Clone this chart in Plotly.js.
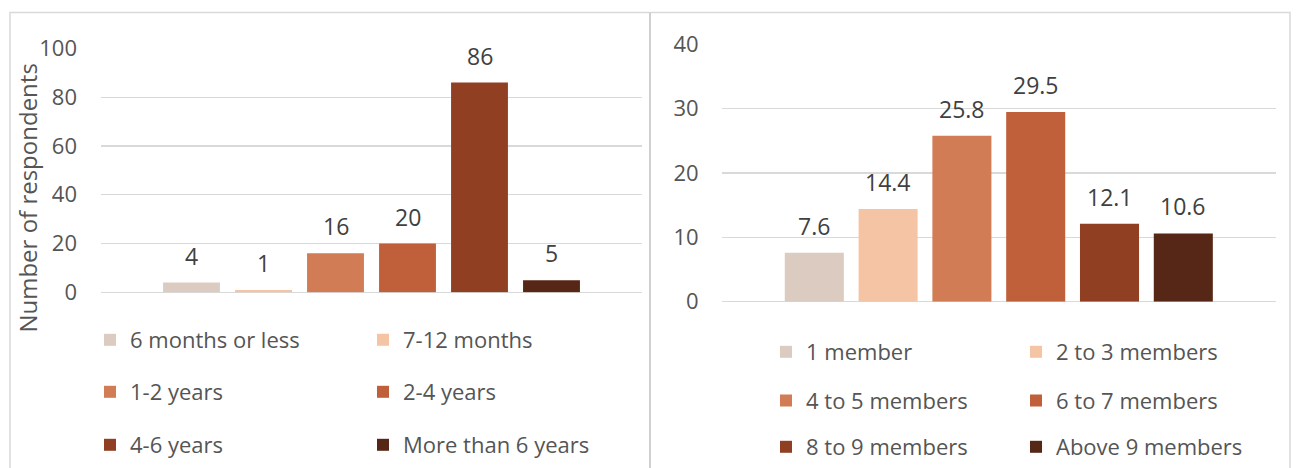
<!DOCTYPE html>
<html>
<head>
<meta charset="utf-8">
<script src="https://cdn.plot.ly/plotly-3.0.1.min.js"></script>
<style>html,body{margin:0;padding:0;background:#fff;}#chart{width:1296px;height:468px;}</style>
</head>
<body>
<div id="chart"></div>
<script>
// ---- Data ----
const durationCategories = ["6 months or less", "7-12 months", "1-2 years", "2-4 years", "4-6 years", "More than 6 years"];
const durationValues = [4, 1, 16, 20, 86, 5];
const householdCategories = ["1 member", "2 to 3 members", "4 to 5 members", "6 to 7 members", "8 to 9 members", "Above 9 members"];
const householdValues = [7.6, 14.4, 25.8, 29.5, 12.1, 10.6];
const barColors = ["#DCCBC1", "#F5C4A4", "#D17C55", "#C0603A", "#903F23", "#562716"];
const leftTicks = [0, 20, 40, 60, 80, 100];
const rightTicks = [0, 10, 20, 30, 40];
const yTitleLeft = "Number of respondents";

// ---- Layout helpers ----
const W = 1296, H = 468;
const px = v => v / W;
const py = v => 1 - v / H;
const FONT = "Open Sans, Liberation Sans, sans-serif";
const GRID = "#d9d9d9";
const TXT = "#555555";

const traces = [];
const annotations = [];

function addPanel(cats, vals, xa, ya, legendKeys, barWidth) {
  cats.forEach((c, i) => {
    traces.push({
      type: "bar",
      x: [c],
      y: [vals[i]],
      name: c,
      width: barWidth,
      marker: {color: barColors[i], line: {width: 0}},
      xaxis: xa, yaxis: ya,
      legend: legendKeys[Math.floor(i / 2)],
      hoverinfo: "x+y"
    });
    annotations.push({
      xref: xa, yref: ya, x: c, y: vals[i],
      text: String(vals[i]), showarrow: false,
      yanchor: "middle", yshift: 27,
      font: {family: FONT, size: 23, color: "#404040"}
    });
  });
}

addPanel(durationCategories, durationValues, "x", "y", ["legend", "legend2", "legend3"], 0.79);
addPanel(householdCategories, householdValues, "x2", "y2", ["legend4", "legend5", "legend6"], 0.80);

annotations.push({
  xref: "paper", yref: "paper", x: px(28), y: py(199),
  text: yTitleLeft, textangle: -90, showarrow: false,
  xanchor: "center", yanchor: "middle",
  font: {family: FONT, size: 24, color: TXT}
});

function legendAt(x, y, ew) {
  return {
    orientation: "h", x: px(x), y: py(y), xanchor: "left", yanchor: "middle",
    xref: "paper", yref: "paper",
    entrywidth: ew, entrywidthmode: "pixels",
    font: {family: FONT, size: 22, color: TXT},
    bgcolor: "rgba(0,0,0,0)", borderwidth: 0, itemclick: false, itemdoubleclick: false
  };
}

const xBase = {type: "category", showgrid: false, zeroline: false, showline: false, showticklabels: false, ticks: "", fixedrange: true};
const yBase = {
  showgrid: true, gridcolor: GRID, gridwidth: 1.3, zeroline: true, zerolinecolor: GRID, zerolinewidth: 1.3,
  showline: false, ticks: "", tickfont: {family: FONT, size: 22, color: TXT}, fixedrange: true
};

const layout = {
  width: W, height: H,
  margin: {l: 0, r: 0, t: 0, b: 0},
  paper_bgcolor: "#ffffff", plot_bgcolor: "rgba(0,0,0,0)",
  barmode: "overlay",
  font: {family: FONT, color: TXT},
  xaxis: Object.assign({}, xBase, {domain: [px(101), px(642)], range: [-1.257, 6.257], anchor: "y"}),
  yaxis: Object.assign({}, yBase, {domain: [py(293), py(48.5)], range: [0, 100], tickvals: leftTicks, ticklabelstandoff: 23, anchor: "x"}),
  xaxis2: Object.assign({}, xBase, {domain: [px(721.6), px(1276)], range: [-1.256, 6.256], anchor: "y2"}),
  yaxis2: Object.assign({}, yBase, {domain: [py(302.3), py(44.5)], range: [0, 40], tickvals: rightTicks, ticklabelstandoff: 22, anchor: "x2"}),
  legend: legendAt(90, 340, 228),
  legend2: legendAt(90, 392, 228),
  legend3: legendAt(90, 445, 228),
  legend4: legendAt(766, 352, 205),
  legend5: legendAt(766, 400.7, 205),
  legend6: legendAt(766, 448, 205),
  annotations: annotations,
  shapes: [
    {type: "rect", xref: "paper", yref: "paper", x0: px(10), x1: px(1290), y0: -0.05, y1: py(12.5), line: {color: "#d9d9d9", width: 1.5}},
    {type: "line", xref: "paper", yref: "paper", x0: px(650), x1: px(650), y0: -0.05, y1: py(12.5), line: {color: "#d0d0d0", width: 2}}
  ]
};

Plotly.newPlot("chart", traces, layout, {displayModeBar: false, staticPlot: true});
</script>
</body>
</html>
